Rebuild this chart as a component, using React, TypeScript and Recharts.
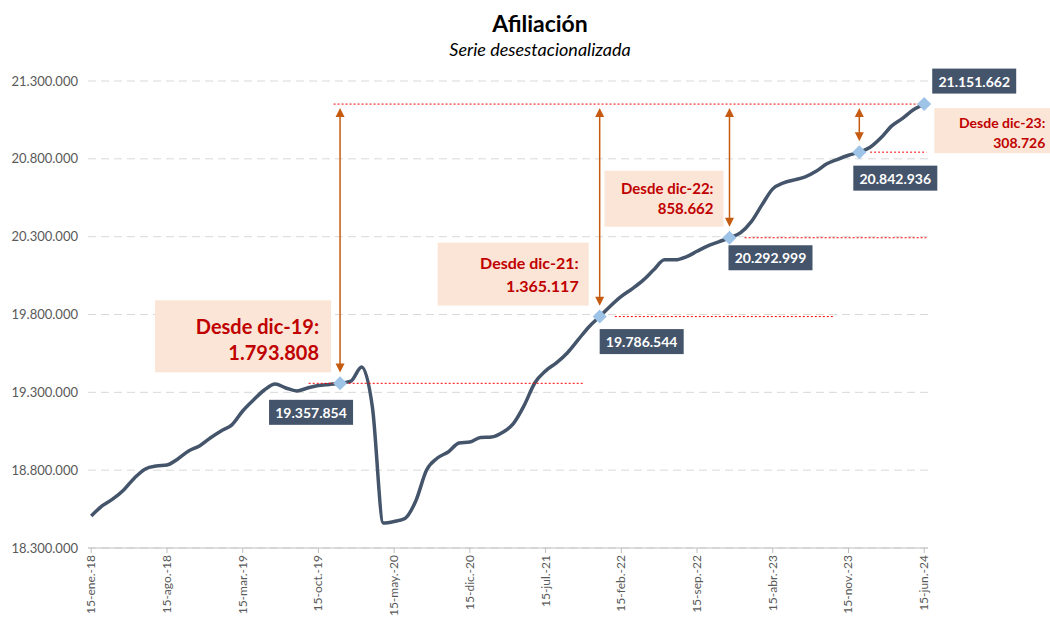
import React from 'react';
import { LineChart, Line, XAxis, YAxis, CartesianGrid, ReferenceLine, ReferenceDot } from 'recharts';

// afiliación media mensual desestacionalizada, ene-18 .. jun-24
const afiliacion = [
  18506000, 18570000, 18615000, 18673000, 18750000, 18808000, 18827000, 18833000, 18872000, 18923000,
  18956000, 19007000, 19052000, 19091000, 19180000, 19251000, 19315000, 19354000, 19328000, 19309000,
  19328000, 19344000, 19351000, 19357854, 19372000, 19463000, 19200000, 18460000, 18470000, 18490000,
  18602000, 18801000, 18878000, 18917000, 18975000, 18981000, 19010000, 19013000, 19042000, 19097000,
  19213000, 19360000, 19438000, 19489000, 19553000, 19637000, 19720000, 19786544, 19855000, 19916000,
  19965000, 20019000, 20087000, 20151000, 20151000, 20170000, 20206000, 20241000, 20267000, 20292999,
  20324000, 20395000, 20504000, 20607000, 20646000, 20665000, 20684000, 20720000, 20768000, 20797000,
  20823000, 20842936, 20874000, 20935000, 21012000, 21060000, 21115000, 21151662,
];

const tickLabels = [
  '15-ene.-18', '15-ago.-18', '15-mar.-19', '15-oct.-19', '15-may.-20', '15-dic.-20',
  '15-jul.-21', '15-feb.-22', '15-sep.-22', '15-abr.-23', '15-nov.-23', '15-jun.-24',
];
const tickIdx = [0, 7, 14, 21, 28, 35, 42, 49, 56, 63, 70, 77];
const yTicks = [18300000, 18800000, 19300000, 19800000, 20300000, 20800000, 21300000];

// puntos destacados (dic-19, dic-21, dic-22, dic-23, jun-24)
const hitosIdx = [23, 47, 59, 71, 77];
const desdeTitulo = ['Desde dic-19:', 'Desde dic-21:', 'Desde dic-22:', 'Desde dic-23:', ''];
const desdeValor = ['1.793.808', '1.365.117', '858.662', '308.726', ''];

const data = afiliacion.map((v, i) => ({ i, v }));
const ultimo = afiliacion[afiliacion.length - 1];

const fmt = (n: number) => String(Math.round(n)).replace(/\B(?=(\d{3})+(?!\d))/g, '.');

// layout of the annotation boxes, relative to each highlighted point
const etiquetas = [
  { lx: -29, ly: 29, bx: -185, by: -83, bw: 176, bh: 72, tx: -21, t1: -57, t2: -31, fs: 20 },
  { lx: 42, ly: 25, bx: -162, by: -74, bw: 151, bh: 63, tx: -21, t1: -54, t2: -31, fs: 16 },
  { lx: 41, ly: 20, bx: -125, by: -67, bw: 119, bh: 56, tx: -16, t1: -50, t2: -30, fs: 15 },
  { lx: 36, ly: 26, bx: 75, by: -44, bw: 120, bh: 45, tx: 186, t1: -30, t2: -10, fs: 14 },
  { lx: 50, ly: -23, bx: 0, by: 0, bw: 0, bh: 0, tx: 0, t1: 0, t2: 0, fs: 14 },
];

const rojas = [
  { k: 4, desde: 22.4, hasta: 77 },
  { k: 0, desde: 20.1, hasta: 45.5 },
  { k: 1, desde: 48.4, hasta: 68.6 },
  { k: 2, desde: 60.4, hasta: 77.2 },
  { k: 3, desde: 72, hasta: 77.2 },
];

const FONT = 'Lato, "Open Sans", sans-serif';

const XTick = ({ x, y, payload }: any) => {
  const pos = tickIdx.indexOf(payload.value);
  return (
    <text x={x} y={y} dy={4} transform={`rotate(-90, ${x}, ${y})`} textAnchor="end"
      fontSize={12} fill="#595959" fontFamily={FONT}>
      {tickLabels[pos]}
    </text>
  );
};

const Flecha = (props: any) => {
  const { x1, y1, x2, y2 } = props;
  const top = Math.min(y1, y2);
  const bot = Math.max(y1, y2);
  const c = '#C55A11';
  return (
    <g>
      <line x1={x1} y1={top + 6} x2={x2} y2={bot - 6} stroke={c} strokeWidth={1.5} />
      <polygon points={`${x1},${top} ${x1 - 4.5},${top + 9} ${x1 + 4.5},${top + 9}`} fill={c} />
      <polygon points={`${x1},${bot} ${x1 - 4.5},${bot - 9} ${x1 + 4.5},${bot - 9}`} fill={c} />
    </g>
  );
};

const Hito = ({ cx, cy, k }: any) => {
  const e = etiquetas[k];
  const valor = afiliacion[hitosIdx[k]];
  return (
    <g fontFamily={FONT}>
      {e.bw > 0 && (
        <g>
          <rect x={cx + e.bx} y={cy + e.by} width={e.bw} height={e.bh} fill="#FBE5D6" />
          <text x={cx + e.tx} y={cy + e.t1} textAnchor="end" dominantBaseline="central"
            fontSize={e.fs} fontWeight={700} fill="#C00000">{desdeTitulo[k]}</text>
          <text x={cx + e.tx} y={cy + e.t2} textAnchor="end" dominantBaseline="central"
            fontSize={e.fs} fontWeight={700} fill="#C00000">{desdeValor[k]}</text>
        </g>
      )}
      <polygon points={`${cx},${cy - 7} ${cx + 7},${cy} ${cx},${cy + 7} ${cx - 7},${cy}`} fill="#9DC3E6" />
      <rect x={cx + e.lx - 42} y={cy + e.ly - 12.5} width={84} height={25} fill="#44546A" />
      <text x={cx + e.lx} y={cy + e.ly} textAnchor="middle" dominantBaseline="central"
        fontSize={14} fontWeight={700} fill="#ffffff">{fmt(valor)}</text>
    </g>
  );
};

const App: React.FC = () => {
  return (
    <div style={{ position: 'absolute', left: 0, top: 0, width: 1050, height: 621, background: '#fff', fontFamily: FONT }}>
      <div style={{ position: 'absolute', top: 9, left: 30, width: 1020, textAlign: 'center', fontSize: 23, fontWeight: 700, color: '#000', lineHeight: '28px' }}>
        Afiliación
      </div>
      <div style={{ position: 'absolute', top: 38, left: 30, width: 1020, textAlign: 'center', fontSize: 18, fontStyle: 'italic', color: '#000', lineHeight: '22px' }}>
        Serie desestacionalizada
      </div>
      <LineChart width={1050} height={621} data={data}
        margin={{ top: 81, right: 122, left: 0, bottom: 0 }}>
        <CartesianGrid vertical={false} stroke="#d9d9d9" strokeDasharray="8 5" />
        <XAxis dataKey="i" type="number" domain={[-0.3, 77.35]} ticks={tickIdx} interval={0}
          allowDataOverflow height={73} tick={<XTick />} tickSize={5} tickMargin={2}
          axisLine={{ stroke: '#bfbfbf' }} tickLine={{ stroke: '#bfbfbf' }} />
        <YAxis domain={[18300000, 21300000]} ticks={yTicks} width={88} tickFormatter={fmt}
          axisLine={false} tickLine={false} tickSize={0} tickMargin={10}
          tick={{ fontSize: 13, fill: '#595959', fontFamily: FONT }} />
        <Line type="monotone" dataKey="v" stroke="#44546A" strokeWidth={3.5} dot={false}
          activeDot={false} isAnimationActive={false} />
        {rojas.map((r) => {
          const y = afiliacion[hitosIdx[r.k]];
          return (
            <ReferenceLine key={'r' + r.k} segment={[{ x: r.desde, y }, { x: r.hasta, y }]}
              stroke="#FF0000" strokeWidth={1} strokeDasharray="2 2" />
          );
        })}
        {hitosIdx.slice(0, 4).map((idx) => (
          <ReferenceLine key={'f' + idx}
            segment={[{ x: idx, y: ultimo - 25000 }, { x: idx, y: afiliacion[idx] + 70000 }]}
            shape={(p: any) => <Flecha {...p} />} />
        ))}
        {hitosIdx.map((idx, k) => (
          <ReferenceDot key={'d' + idx} x={idx} y={afiliacion[idx]} r={7}
            shape={(p: any) => <Hito {...p} k={k} />} />
        ))}
      </LineChart>
    </div>
  );
};

export default App;
